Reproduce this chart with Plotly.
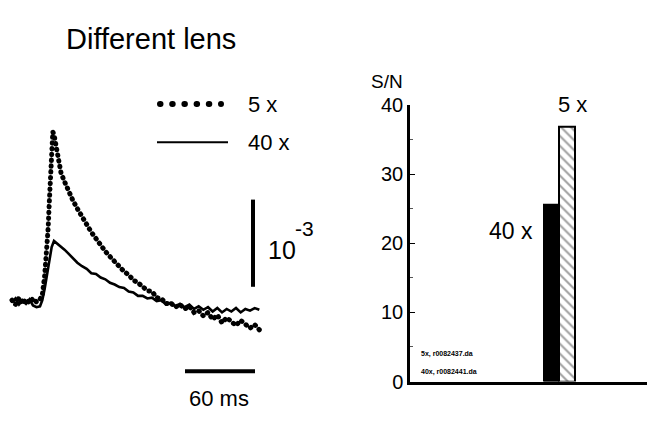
import plotly.graph_objects as go

W, H = 647, 421

# ---- Left panel: optical traces (units of 1e-3) ----
t_5x = [0, 3, 6, 9, 12, 15, 18, 21, 24, 26, 28, 30, 31, 32, 33, 34, 35, 36, 37, 38, 40, 42, 45, 48,
        52, 56, 60, 64, 68, 72, 76, 80, 84, 88, 92, 96, 100, 104, 108, 112, 116, 120, 124, 128,
        132, 136, 140, 144, 148, 152, 156, 160, 164, 168, 172, 176, 180, 184, 188, 192, 196, 200,
        204, 208, 212]
v_5x = [0.02, -0.03, 0.05, -0.02, 0.03, -0.01, 0.04, 0.00, 0.03, 0.08, 0.30, 0.60, 0.85, 1.15,
        1.45, 1.75, 1.95, 1.92, 1.85, 1.80, 1.62, 1.48, 1.38, 1.28, 1.17, 1.07, 0.97, 0.89, 0.80,
        0.72, 0.64, 0.58, 0.52, 0.46, 0.41, 0.35, 0.31, 0.25, 0.22, 0.17, 0.13, 0.12, 0.05, 0.04,
        -0.02, -0.01, -0.06, -0.03, -0.08, -0.05, -0.12, -0.10, -0.16, -0.12, -0.20, -0.15, -0.24,
        -0.18, -0.22, -0.27, -0.21, -0.25, -0.30, -0.26, -0.32]

t_40x = [0, 3, 6, 9, 12, 15, 18, 21, 24, 26, 28, 30, 32, 34, 36, 37, 38, 40, 42, 45, 48, 52, 56,
         60, 64, 68, 72, 76, 80, 84, 88, 92, 96, 100, 104, 108, 112, 116, 120, 124, 128, 132, 136,
         140, 144, 148, 152, 156, 160, 164, 168, 172, 176, 180, 184, 188, 192, 196, 200, 204, 208,
         212]
v_40x = [0.00, 0.04, -0.03, 0.02, -0.02, 0.03, -0.04, -0.06, -0.05, 0.02, 0.15, 0.32, 0.50, 0.63,
         0.70, 0.69, 0.67, 0.66, 0.63, 0.60, 0.56, 0.50, 0.45, 0.41, 0.38, 0.33, 0.32, 0.28, 0.26,
         0.22, 0.20, 0.17, 0.16, 0.12, 0.11, 0.07, 0.07, 0.04, 0.05, 0.01, 0.02, -0.03, -0.01,
         -0.05, -0.02, -0.06, -0.03, -0.08, -0.05, -0.09, -0.06, -0.11, -0.07, -0.12, -0.08, -0.11,
         -0.07, -0.12, -0.08, -0.10, -0.07, -0.09]

# ---- Right panel: S/N bars ----
lens_labels = ["40 x", "5 x"]
sn_values = [25.6, 36.8]
sn_ticks = [0, 10, 20, 30, 40]
file_notes = ["5x, r0082437.da", "40x, r0082441.da"]

FONT = "Arial, Liberation Sans, sans-serif"


def px(x):
    return x / W


def py(y):
    return 1 - y / H


fig = go.Figure()

fig.add_trace(go.Scatter(x=t_40x, y=v_40x, mode="lines",
                         line=dict(color="black", width=2.6), xaxis="x", yaxis="y",
                         showlegend=False))
fig.add_trace(go.Scatter(x=t_5x, y=v_5x, mode="lines",
                         line=dict(color="black", width=5, dash="0.5px,5.3px"),
                         xaxis="x", yaxis="y", showlegend=False))

fig.add_trace(go.Bar(x=lens_labels, y=sn_values, xaxis="x2", yaxis="y2",
                     marker=dict(color=["black", "white"],
                                 line=dict(color="black", width=2),
                                 pattern=dict(shape=["", "\\"], fgcolor="black",
                                              bgcolor="white", size=7, solidity=0.3)),
                     showlegend=False))

# px per ms and per 1e-3
ms_px = 1.1667
u_px = 92.0
x0_px, y0_px = 12.0, 307.0
left_w = 300.0

fig.update_layout(
    width=W, height=H,
    margin=dict(l=0, r=0, t=0, b=0),
    paper_bgcolor="white", plot_bgcolor="white",
    font=dict(family=FONT, color="black"),
    bargap=0,
    xaxis=dict(domain=[0, left_w / W],
               range=[-x0_px / ms_px, (left_w - x0_px) / ms_px],
               visible=False),
    yaxis=dict(domain=[0, 1], anchor="x",
               range=[(y0_px - H) / u_px, y0_px / u_px],
               visible=False),
    xaxis2=dict(domain=[px(410), 1], anchor="y2", type="category",
                range=[-9.13, 6.16], showline=True, linecolor="black", linewidth=2.5,
                showticklabels=False, ticks="", showgrid=False, zeroline=False),
    yaxis2=dict(domain=[py(391), py(99)], anchor="x2", range=[0, 40],
                showline=True, linecolor="black", linewidth=2.5,
                tickvals=sn_ticks, ticks="inside", ticklen=5, tickwidth=1, tickcolor="black",
                minor=dict(dtick=5, ticks="inside", ticklen=3, tickwidth=1, tickcolor="#555"),
                tickfont=dict(size=20, family=FONT, color="black"),
                showgrid=False, zeroline=False),
)

# Scale bars in data coordinates of the left panel
bar_x_ms = (253 - x0_px) / ms_px
fig.add_shape(type="line", xref="x", yref="y", x0=bar_x_ms, x1=bar_x_ms,
              y0=(y0_px - 291) / u_px, y1=(y0_px - 291) / u_px + 1.0,
              line=dict(color="black", width=4))
hb_y = (y0_px - 380) / u_px
hb_x0 = (185 - x0_px) / ms_px
fig.add_shape(type="line", xref="x", yref="y", x0=hb_x0, x1=hb_x0 + 60, y0=hb_y, y1=hb_y,
              line=dict(color="black", width=4))

# Legend samples
fig.add_shape(type="line", xref="paper", yref="paper", x0=px(160), x1=px(221),
              y0=py(98), y1=py(98), line=dict(color="black", width=6, dash="0.5px,11.7px"))
fig.add_shape(type="line", xref="paper", yref="paper", x0=px(157), x1=px(228),
              y0=py(138.5), y1=py(138.5), line=dict(color="black", width=2.2))


def txt(x, y, s, size, xanchor="left", yanchor="middle", bold=False):
    fig.add_annotation(x=px(x), y=py(y), xref="paper", yref="paper", text=s,
                       showarrow=False, xanchor=xanchor, yanchor=yanchor,
                       font=dict(family=FONT, size=size, color="black",
                                 weight="bold" if bold else "normal"))


txt(64, 30, "Different lens", 29)
txt(246, 99, "5 x", 22)
txt(246, 139, "40 x", 22)
txt(266, 252, "10", 25)
txt(293, 229, "-3", 21)
txt(219, 409, "60 ms", 22, xanchor="center")
txt(369, 74, "S/N", 19)
txt(572, 99, lens_labels[1], 22, xanchor="center")
txt(511, 232, lens_labels[0], 23, xanchor="center")
txt(419, 362, file_notes[0], 7, bold=True)
txt(419, 381, file_notes[1], 7, bold=True)

round_caps = """
document.querySelectorAll('path').forEach(function(p){
  var d = p.style.strokeDasharray;
  if (d && d !== 'none') { p.style.strokeLinecap = 'round'; }
});
"""

fig.write_html("out.html", post_script=round_caps)
